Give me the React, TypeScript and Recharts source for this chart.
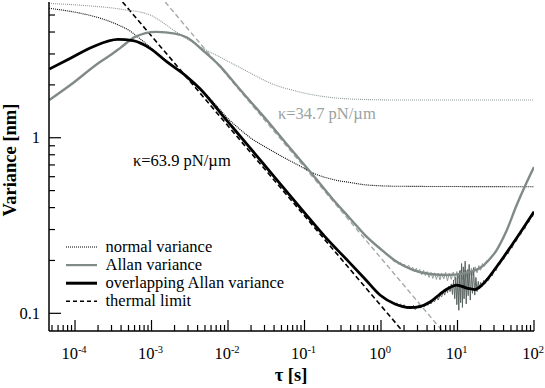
import React from 'react';
import { LineChart, Line, XAxis, YAxis, Customized } from 'recharts';

const X_DOMAIN: [number, number] = [4.57e-5, 100];
const Y_DOMAIN: [number, number] = [0.0793, 5.93];

const xMajorTicks = [1e-4, 1e-3, 1e-2, 1e-1, 1, 10, 100];
const xExpLabels = ['-4', '-3', '-2', '-1', '0', '1', '2'];
const xMinorTicks: number[] = [];
[-5, -4, -3, -2, -1, 0, 1].forEach((e) => {
  [2, 3, 4, 5, 6, 7, 8, 9].forEach((m) => {
    const v = parseFloat((m * Math.pow(10, e)).toPrecision(6));
    if (v >= X_DOMAIN[0] && v <= X_DOMAIN[1]) xMinorTicks.push(v);
  });
});
const xTicks = [...xMajorTicks, ...xMinorTicks].sort((a, b) => a - b);

const yMajorTicks = [0.1, 1];
const yMajorLabels = ['0.1', '1'];
const yTicks = [0.1, 0.2, 0.3, 0.4, 0.5, 0.6, 0.7, 0.8, 0.9, 1, 2, 3, 4, 5];

type P = { t: number; v: number };
const pts = (a: number[][]): P[] => a.map(([t, v]) => ({ t, v }));

// thermal limits (straight lines in log-log)
const thermalBlack = pts([[4.18e-4, 5.93], [1.91, 0.0793]]);
const thermalGray = pts([[1.51e-3, 5.93], [6.35, 0.0793]]);

// normal variance, kappa = 34.7 (gray dotted)
const normalVarGray = pts([
  [4.57e-5, 5.82], [1.35e-4, 5.66], [4.08e-4, 5.39], [9.55e-4, 5.0], [2.03e-3, 4.05],
  [4.31e-3, 3.29], [7.86e-3, 2.88], [1.31e-2, 2.56], [1.94e-2, 2.34], [3.54e-2, 2.05],
  [8.73e-2, 1.82], [0.236, 1.69], [0.656, 1.65], [1.77, 1.64], [100, 1.64],
]);

// normal variance, kappa = 63.9 (black dotted)
const normalVarBlack = pts([
  [4.57e-5, 5.46], [1.09e-4, 5.15], [2.12e-4, 4.8], [3.33e-4, 4.47], [5.24e-4, 4.05],
  [7.74e-4, 3.55], [1.18e-3, 3.04], [1.75e-3, 2.63], [2.74e-3, 2.26], [4.31e-3, 1.906],
  [6.76e-3, 1.555], [9.7e-3, 1.303], [1.44e-2, 1.114], [1.94e-2, 1.003], [3.24e-2, 0.874],
  [5.24e-2, 0.776], [8.73e-2, 0.69], [0.129, 0.63], [0.236, 0.578], [0.394, 0.556],
  [0.656, 0.538], [1.77, 0.529], [100, 0.526],
]);

// Allan variance (gray solid, smooth)
const allanGray = pts([
  [4.61e-5, 1.639], [8.6e-5, 1.99], [2.12e-4, 2.7], [3.05e-4, 3.0], [3.88e-4, 3.24],
  [6.09e-4, 3.75], [1.15e-3, 4.01], [2.03e-3, 3.92], [2.91e-3, 3.72], [4.71e-3, 3.14],
  [7.86e-3, 2.56], [1.31e-2, 1.97], [1.94e-2, 1.618], [3.24e-2, 1.253], [6.46e-2, 0.874],
  [0.129, 0.613], [0.236, 0.445], [0.394, 0.347], [0.618, 0.279], [0.97, 0.234],
  [1.6, 0.1967], [2.64, 0.1764], [4.37, 0.1674], [7.23, 0.1652], [11.9, 0.1689],
  [19.7, 0.181], [25.0, 0.1985], [32.5, 0.2293], [43.0, 0.2904], [59.4, 0.4137],
  [76.3, 0.531], [100, 0.681],
]);

// overlapping Allan variance (black solid, smooth)
const allanOverlap = pts([
  [4.61e-5, 2.46], [8.6e-5, 2.83], [1.72e-4, 3.3], [3.65e-4, 3.63], [5.73e-4, 3.57],
  [9.55e-4, 3.23], [1.58e-3, 2.71], [2.88e-3, 2.23], [4.31e-3, 1.9], [9.14e-3, 1.288],
  [1.94e-2, 0.876], [4.11e-2, 0.592], [8.73e-2, 0.4015], [0.185, 0.2734], [0.394, 0.1931],
  [0.618, 0.1568], [0.97, 0.1271], [1.52, 0.113], [2.39, 0.1079], [3.23, 0.1093],
  [4.37, 0.1159], [5.91, 0.1288], [7.51, 0.1384], [9.77, 0.1449], [13.2, 0.1393],
  [16.9, 0.1366], [20.9, 0.1449], [32.5, 0.1842], [53.6, 0.2514], [100, 0.379],
]);

// raw (noisy) Allan variance around the minimum
const allanGrayRaw = pts([
  [1.4, 0.203], [1.5, 0.196], [1.6, 0.2], [1.7, 0.19], [1.8, 0.195], [1.9, 0.186],
  [2.0, 0.191], [2.15, 0.182], [2.3, 0.188], [2.45, 0.177], [2.6, 0.183], [2.75, 0.173],
  [2.9, 0.181], [3.05, 0.171], [3.2, 0.178], [3.4, 0.166], [3.6, 0.176], [3.8, 0.164],
  [4.0, 0.173], [4.25, 0.16], [4.5, 0.171], [4.75, 0.158], [5.0, 0.17], [5.3, 0.156],
  [5.6, 0.169], [5.9, 0.155], [6.2, 0.169], [6.6, 0.157], [7.0, 0.171], [7.4, 0.153],
  [7.8, 0.169], [8.3, 0.156], [8.8, 0.172], [9.3, 0.154], [9.8, 0.173], [10.4, 0.158],
  [11.0, 0.176], [11.6, 0.156], [12.2, 0.177], [12.9, 0.16], [13.6, 0.179], [14.4, 0.161],
  [15.2, 0.181], [16.0, 0.164], [17.0, 0.184], [18.0, 0.17], [19.0, 0.187], [20.0, 0.176],
  [21.2, 0.192], [22.5, 0.185], [24, 0.2],
]);

// raw (noisy) overlapping Allan variance
const allanOverlapRaw = pts([
  [1.6, 0.115], [1.7, 0.111], [1.8, 0.113], [1.9, 0.108], [2.0, 0.112], [2.1, 0.109],
  [2.25, 0.106], [2.4, 0.11], [2.5, 0.107], [2.65, 0.111], [2.8, 0.105], [3.0, 0.109],
  [3.15, 0.112], [3.3, 0.107], [3.5, 0.111], [3.7, 0.109], [3.9, 0.114], [4.1, 0.111],
  [4.3, 0.117], [4.5, 0.113], [4.8, 0.119], [5.0, 0.116], [5.3, 0.124], [5.6, 0.119],
  [5.9, 0.127], [6.2, 0.124], [6.5, 0.133], [6.8, 0.127], [7.1, 0.138], [7.4, 0.131],
  [7.7, 0.143], [8.0, 0.133], [8.3, 0.147], [8.6, 0.128], [8.9, 0.155], [9.2, 0.121],
  [9.5, 0.16], [9.8, 0.112], [10.1, 0.166], [10.4, 0.104], [10.7, 0.175], [11.0, 0.115],
  [11.3, 0.192], [11.6, 0.108], [11.9, 0.184], [12.2, 0.121], [12.6, 0.198], [13.0, 0.113],
  [13.4, 0.176], [13.8, 0.126], [14.2, 0.19], [14.7, 0.119], [15.2, 0.172], [15.7, 0.13],
  [16.2, 0.182], [16.8, 0.127], [17.4, 0.16], [18.0, 0.133], [18.7, 0.152], [19.4, 0.138],
  [20.1, 0.15], [21, 0.142], [22, 0.154], [23, 0.148], [24, 0.158], [25.5, 0.154],
  [27, 0.167], [28.5, 0.163], [30, 0.178], [32, 0.175], [34, 0.192], [36, 0.19],
  [38, 0.205], [40.5, 0.203], [43, 0.222], [46, 0.218], [49, 0.24], [52, 0.236],
  [55, 0.259], [59, 0.257], [63, 0.283], [67, 0.28], [71, 0.304], [76, 0.302],
  [81, 0.333], [86, 0.33], [91, 0.357], [96, 0.355], [100, 0.382],
]);

const FONT = "'Liberation Serif', 'Times New Roman', 'DejaVu Serif', serif";
const GRAY = '#808b87';
const GRAY_LIGHT = '#a3aba8';
const GRAY_NOISE = '#939d99';
const GRAY_TEXT = '#9aa39f';

const legendItems = [
  { label: 'normal variance', stroke: '#000', width: 1, dash: '1 1' },
  { label: 'Allan variance', stroke: GRAY, width: 2.2, dash: undefined },
  { label: 'overlapping Allan variance', stroke: '#000', width: 3, dash: undefined },
  { label: 'thermal limit', stroke: '#000', width: 1.4, dash: '4 3' },
];

const near = (a: number, b: number) => Math.abs(a / b - 1) < 1e-6;
const txt = (size: number, bold = false): React.CSSProperties => ({
  fontFamily: FONT,
  fontSize: size,
  fontWeight: bold ? 'bold' : 'normal',
});

const BottomTick = (p: any) => {
  const { x, y, payload } = p;
  const idx = xMajorTicks.findIndex((m) => near(m, payload.value));
  const major = idx >= 0;
  return (
    <g>
      <line x1={x} x2={x} y1={y} y2={y - (major ? 11 : 6)} stroke="#000" strokeWidth={1.2} />
      {major && (
        <text x={x - 1} y={y + 28} textAnchor="middle" style={txt(16.5)} fill="#000">
          <tspan>10</tspan>
          <tspan dy={-6.5} style={txt(10.5)}>{xExpLabels[idx]}</tspan>
        </text>
      )}
    </g>
  );
};

const TopTick = (p: any) => {
  const { x, y, payload } = p;
  const major = xMajorTicks.some((m) => near(m, payload.value));
  return <line x1={x} x2={x} y1={y} y2={y + (major ? 11 : 6)} stroke="#000" strokeWidth={1.2} />;
};

const LeftTick = (p: any) => {
  const { x, y, payload } = p;
  const idx = yMajorTicks.findIndex((m) => near(m, payload.value));
  const major = idx >= 0;
  return (
    <g>
      <line x1={x} x2={x + (major ? 12 : 6)} y1={y} y2={y} stroke="#000" strokeWidth={1.2} />
      {major && (
        <text x={40} y={y + 5.5} textAnchor="end" style={txt(16.5)} fill="#000">
          {yMajorLabels[idx]}
        </text>
      )}
    </g>
  );
};

const RightTick = (p: any) => {
  const { x, y, payload } = p;
  const major = yMajorTicks.some((m) => near(m, payload.value));
  return <line x1={x} x2={x - (major ? 12 : 6)} y1={y} y2={y} stroke="#000" strokeWidth={1.2} />;
};

const Overlay = () => (
  <g>
    <text x={133} y={166} style={txt(16.5)} fill="#000">κ=63.9 pN/µm</text>
    <text x={278} y={119} style={txt(16.5)} fill={GRAY_TEXT}>κ=34.7 pN/µm</text>
    {legendItems.map((it, i) => {
      const base = 251.5 + 18.1 * i;
      return (
        <g key={it.label}>
          <line x1={66} x2={97} y1={base - 4.5} y2={base - 4.5} stroke={it.stroke}
            strokeWidth={it.width} strokeDasharray={it.dash} />
          <text x={105.5} y={base} style={txt(16.5)} fill="#000">{it.label}</text>
        </g>
      );
    })}
    <text transform="translate(16,160) rotate(-90)" textAnchor="middle" style={txt(18.5, true)}
      fill="#000">Variance [nm]</text>
    <text x={291} y={381} textAnchor="middle" style={txt(18.5, true)} fill="#000">τ [s]</text>
  </g>
);

const axisLine = { stroke: '#000', strokeWidth: 1.5 };

export default function App() {
  return (
    <div style={{ position: 'absolute', left: 0, top: 0 }}>
      <LineChart width={545} height={388} margin={{ top: 2, right: 11, left: 0, bottom: 0 }}>
        <XAxis xAxisId="b" dataKey="t" type="number" scale="log" domain={X_DOMAIN} allowDataOverflow
          ticks={xTicks} interval={0} tick={BottomTick} tickLine={false} tickSize={0} tickMargin={0}
          axisLine={axisLine} height={57} />
        <XAxis xAxisId="t" orientation="top" dataKey="t" type="number" scale="log" domain={X_DOMAIN}
          allowDataOverflow ticks={xTicks} interval={0} tick={TopTick} tickLine={false} tickSize={0}
          tickMargin={0} axisLine={axisLine} height={0} />
        <YAxis yAxisId="l" type="number" scale="log" domain={Y_DOMAIN} allowDataOverflow ticks={yTicks}
          interval={0} tick={LeftTick} tickLine={false} tickSize={0} tickMargin={0} axisLine={axisLine}
          width={49} />
        <YAxis yAxisId="r" orientation="right" type="number" scale="log" domain={Y_DOMAIN} allowDataOverflow
          ticks={yTicks} interval={0} tick={RightTick} tickLine={false} tickSize={0} tickMargin={0}
          axisLine={axisLine} width={0} />

        <Line xAxisId="b" yAxisId="l" data={allanGrayRaw} dataKey="v" type="linear" stroke={GRAY_NOISE}
          strokeWidth={1} dot={false} isAnimationActive={false} />
        <Line xAxisId="b" yAxisId="l" data={allanOverlapRaw} dataKey="v" type="linear" stroke="#5a6460"
          strokeWidth={1} dot={false} isAnimationActive={false} />
        <Line xAxisId="b" yAxisId="l" data={thermalGray} dataKey="v" type="linear" stroke={GRAY_LIGHT}
          strokeWidth={1.4} strokeDasharray="5 3" dot={false} isAnimationActive={false} />
        <Line xAxisId="b" yAxisId="l" data={thermalBlack} dataKey="v" type="linear" stroke="#000"
          strokeWidth={1.6} strokeDasharray="5 3" dot={false} isAnimationActive={false} />
        <Line xAxisId="t" yAxisId="r" data={normalVarGray} dataKey="v" type="monotone" stroke="#8e9894"
          strokeWidth={1.1} strokeDasharray="1 1" dot={false} isAnimationActive={false} />
        <Line xAxisId="b" yAxisId="l" data={normalVarBlack} dataKey="v" type="monotone" stroke="#000"
          strokeWidth={1.1} strokeDasharray="1 1" dot={false} isAnimationActive={false} />
        <Line xAxisId="b" yAxisId="l" data={allanGray} dataKey="v" type="monotone" stroke={GRAY}
          strokeWidth={2.4} dot={false} isAnimationActive={false} />
        <Line xAxisId="b" yAxisId="l" data={allanOverlap} dataKey="v" type="monotone" stroke="#000"
          strokeWidth={2.8} dot={false} isAnimationActive={false} />
        <Customized component={Overlay} />
      </LineChart>
    </div>
  );
}
